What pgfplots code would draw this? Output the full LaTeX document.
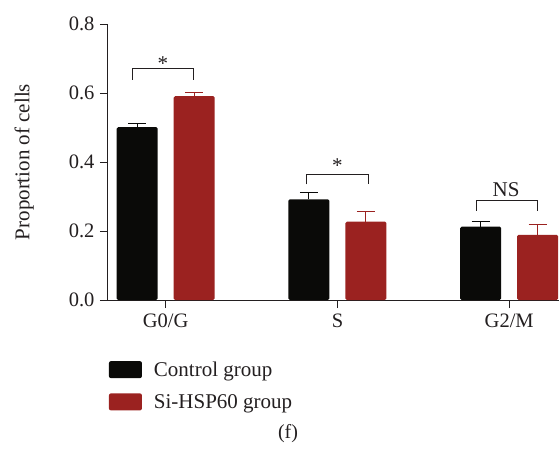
\documentclass[border=0pt]{standalone}
\usepackage{fontspec}
\setmainfont{Liberation Serif}
\usepackage{pgfplots}
\pgfplotsset{compat=1.18}
\definecolor{ctrl}{HTML}{0A0A08}
\definecolor{sired}{HTML}{9B2220}
\definecolor{txt}{HTML}{231F20}
\begin{document}
\begin{tikzpicture}
\path[use as bounding box] (0,0) rectangle (559pt,451pt);
\begin{axis}[
  at={(108pt,151pt)}, anchor=south west,
  scale only axis, width=451pt, height=276pt,
  xmin=-0.336, xmax=2.29, ymin=0, ymax=0.8,
  axis lines=left,
  axis line style={line width=1pt, -, txt},
  tick style={line width=1pt, txt},
  tick align=outside, major tick length=8pt,
  xtick={0,1,2}, xticklabels={G0/G,S,G2/M},
  ytick={0,0.2,0.4,0.6,0.8},
  yticklabel style={/pgf/number format/fixed, /pgf/number format/fixed zerofill, /pgf/number format/precision=1, /tikz/xshift=-2pt},
  /pgf/number format/assume math mode=true,
  ticklabel style={font=\fontsize{20.5}{24}\selectfont, text=txt},
  xticklabel style={yshift=-2pt},
  ylabel={Proportion of cells},
  ylabel style={at={(axis description cs:-0.186,0.5)}, anchor=center, font=\fontsize{21}{25}\selectfont, text=txt},
  ybar, bar width=0.239,
  legend style={at={(axis description cs:-0.005,-0.208)}, anchor=north west, draw=none, fill=none,
    font=\fontsize{21}{25}\selectfont, text=txt, row sep=12.5pt,
    /tikz/every odd column/.append style={column sep=10pt}},
  legend cell align=left,
  legend image code/.code={\fill[#1, rounded corners=2pt] (0pt,-8.5pt) rectangle (33pt,8.5pt);},
  clip=false,
]
\addplot[fill=ctrl, draw=none, bar shift=-0.166, rounded corners=1.5pt,
  error bars/.cd, y dir=plus, y explicit,
  error bar style={line width=1pt, ctrl, sharp corners},
  error mark options={line width=1pt, ctrl, mark size=9pt, rotate=90}]
  coordinates {(0,0.501) +- (0,0.011) (1,0.292) +- (0,0.020) (2,0.2125) +- (0,0.015)};
\addlegendentry{Control group}
\addplot[fill=sired, draw=none, bar shift=0.166, rounded corners=1.5pt,
  error bars/.cd, y dir=plus, y explicit,
  error bar style={line width=1pt, sired, sharp corners},
  error mark options={line width=1pt, sired, mark size=9pt, rotate=90}]
  coordinates {(0,0.591) +- (0,0.011) (1,0.227) +- (0,0.029) (2,0.189) +- (0,0.029)};
\addlegendentry{Si-HSP60 group}
\draw[line width=1pt, txt] (axis cs:-0.192,0.638) |- (axis cs:0.161,0.670) -- (axis cs:0.161,0.638);
\node[anchor=base, txt, font=\fontsize{21}{25}\selectfont] at (axis cs:-0.017,0.666) {*};
\draw[line width=1pt, txt] (axis cs:0.82,0.335) |- (axis cs:1.18,0.364) -- (axis cs:1.18,0.335);
\node[anchor=base, txt, font=\fontsize{21}{25}\selectfont] at (axis cs:1.0,0.369) {*};
\draw[line width=1pt, txt] (axis cs:1.812,0.258) |- (axis cs:2.166,0.288) -- (axis cs:2.166,0.258);
\node[anchor=base, txt, font=\fontsize{21}{25}\selectfont] at (axis cs:1.982,0.301) {NS};
\end{axis}
\node[txt, font=\fontsize{20}{24}\selectfont] at (288pt,17pt) {(f)};
\end{tikzpicture}
\end{document}
